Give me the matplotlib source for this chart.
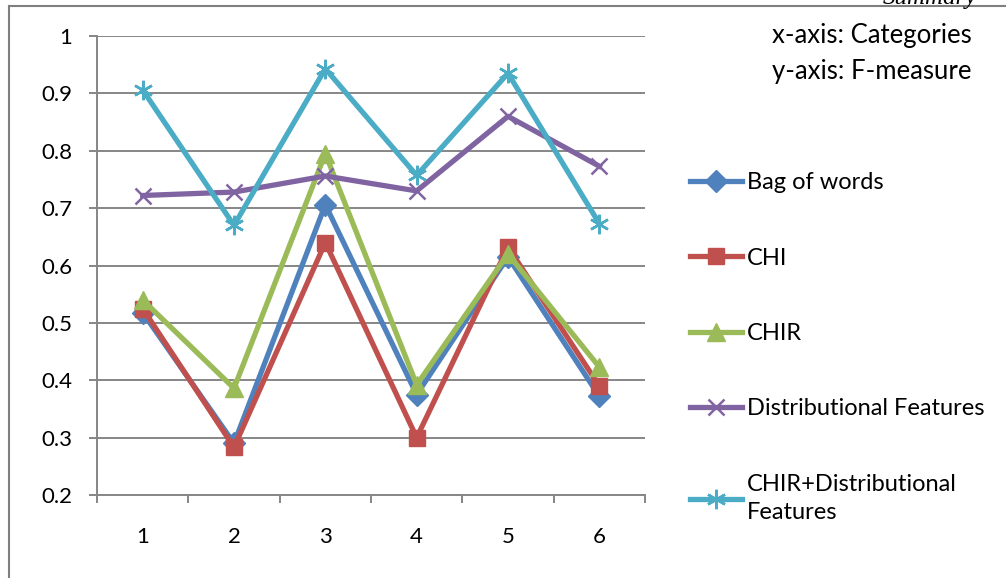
import matplotlib.pyplot as plt
from matplotlib.lines import Line2D

categories = [1, 2, 3, 4, 5, 6]
bag_of_words = [0.518, 0.29, 0.706, 0.375, 0.615, 0.372]
chi = [0.525, 0.283, 0.640, 0.300, 0.632, 0.390]
chir = [0.540, 0.386, 0.795, 0.392, 0.620, 0.423]
distributional = [0.722, 0.728, 0.756, 0.730, 0.860, 0.773]
chir_dist = [0.906, 0.670, 0.943, 0.757, 0.935, 0.673]

series = [
    ("Bag of words", bag_of_words, "#4F81BD", "D", 11),
    ("CHI", chi, "#C0504D", "s", 12),
    ("CHIR", chir, "#9BBB59", "^", 13),
    ("Distributional Features", distributional, "#8064A2", "x", 12),
    ("CHIR+Distributional\nFeatures", chir_dist, "#4BACC6", (6, 2, 0), 14),
]

plt.rcParams['font.family'] = ['Lato', 'DejaVu Sans']
fig = plt.figure(figsize=(10.06, 5.78), dpi=100)
ax = fig.add_axes([97 / 1006, 1 - 495 / 578, 548 / 1006, 459 / 578])

grid_c = "#868686"
for name, vals, col, mk, ms in series:
    ax.plot(categories, vals, color=col, lw=3.8, marker=mk, markersize=ms,
            markeredgecolor=col, markerfacecolor=col,
            markeredgewidth=1.8 if mk in ("x", (6, 2, 0)) else 1, label=name)

ax.set_xlim(0.5, 6.5)
ax.set_ylim(0.2, 1.0)
ax.set_yticks([0.2, 0.3, 0.4, 0.5, 0.6, 0.7, 0.8, 0.9, 1.0])
ax.set_yticklabels(["0.2", "0.3", "0.4", "0.5", "0.6", "0.7", "0.8", "0.9", "1"])
ax.yaxis.grid(True, color=grid_c, lw=1.4)
ax.set_axisbelow(True)
ax.set_xticks([0.5, 1.5, 2.5, 3.5, 4.5, 5.5, 6.5])
ax.set_xticklabels([])
ax.set_xticks(categories, minor=True)
ax.set_xticklabels([str(c) for c in categories], minor=True)
ax.tick_params(axis="x", which="minor", length=0, pad=23, labelsize=16)
ax.tick_params(axis="x", which="major", length=6, color=grid_c, width=1.4)
ax.tick_params(axis="y", length=6, color=grid_c, width=1.4, pad=12, labelsize=16)
for s in ["top", "right"]:
    ax.spines[s].set_visible(False)
for s in ["left", "bottom"]:
    ax.spines[s].set_color(grid_c)
    ax.spines[s].set_linewidth(1.4)

leg = fig.legend(loc="upper left", bbox_to_anchor=(681 / 1006, 1 - 163 / 578),
                 frameon=False, fontsize=17, handlelength=2.2, handletextpad=0.2,
                 labelspacing=2.3, borderaxespad=0)
for h in leg.legend_handles:
    h.set_linewidth(3.8)
for t in leg.get_texts():
    t.set_linespacing(1.45)

fig.text(972 / 1006, 1 - 36 / 578, "x-axis: Categories", ha="right", va="center", fontsize=18.5)
fig.text(972 / 1006, 1 - 71 / 578, "y-axis: F-measure", ha="right", va="center", fontsize=18.5)
fig.text(930 / 1006, 1 + 2 / 578, "Summary", ha="center", va="center", fontsize=18,
         family="Liberation Serif", style="italic")

fig.add_artist(Line2D([9 / 1006, 9 / 1006], [0, 1 - 6 / 578], color="#7f7f7f", lw=1.5))
fig.add_artist(Line2D([9 / 1006, 1], [1 - 6 / 578, 1 - 6 / 578], color="#7f7f7f", lw=1.5))

fig.savefig("out.png", dpi=100)
